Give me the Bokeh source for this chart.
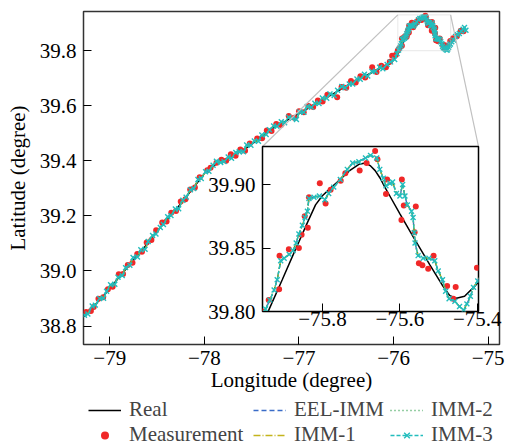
from bokeh.plotting import figure
from bokeh.models import (FixedTicker, CustomJSTickFormatter, BoxAnnotation, Arrow,
                          Legend, LegendItem, Range1d)
from bokeh.embed import file_html
from bokeh.resources import INLINE

# ---------------- data ----------------
real_lon = [-79.27, -79.03, -78.90, -78.75, -78.60, -78.45, -78.32, -78.22, -78.11, -77.99,
            -77.87, -77.72, -77.58, -77.44, -77.28, -77.09, -76.84, -76.63, -76.42, -76.21,
            -76.03, -75.99, -75.96, -75.938, -75.904, -75.874, -75.839, -75.818, -75.801,
            -75.780, -75.758, -75.730, -75.706, -75.689, -75.677, -75.664, -75.651, -75.639,
            -75.626, -75.600, -75.566, -75.523, -75.489, -75.471, -75.454, -75.433, -75.411,
            -75.397, -75.36, -75.32, -75.28, -75.25]
real_lat = [38.835, 38.924, 38.978, 39.039, 39.100, 39.166, 39.215, 39.257, 39.305, 39.358,
            39.390, 39.415, 39.440, 39.475, 39.518, 39.554, 39.603, 39.645, 39.687, 39.724,
            39.754, 39.770, 39.785, 39.8017, 39.825, 39.846, 39.870, 39.884, 39.891,
            39.897, 39.903, 39.911, 39.916, 39.917, 39.915, 39.911, 39.905, 39.898,
            39.891, 39.877, 39.859, 39.837, 39.820, 39.8125, 39.8105, 39.812, 39.8186,
            39.823, 39.842, 39.857, 39.868, 39.876]

meas_lon = [-79.25, -79.20, -79.17, -79.12, -79.07, -79.02, -78.97, -78.905, -78.86, -78.81,
            -78.76, -78.71, -78.66, -78.61, -78.56, -78.51, -78.446, -78.40, -78.35, -78.30,
            -78.25, -78.20, -78.15, -78.10, -78.05, -77.97, -77.935, -77.872, -77.82, -77.77,
            -77.72, -77.67, -77.62, -77.57, -77.52, -77.442, -77.39, -77.34, -77.29, -77.24,
            -77.19, -77.108, -77.05, -77.00, -76.95, -76.90, -76.85, -76.80, -76.75, -76.70,
            -76.596, -76.55, -76.50, -76.45, -76.40, -76.35, -76.30, -76.226, -76.18, -76.13,
            -76.08, -76.04, -76.015, -75.975, -75.955,
            -75.939, -75.912, -75.911, -75.887, -75.861, -75.854, -75.838, -75.846, -75.835,
            -75.807, -75.792, -75.779, -75.753, -75.741, -75.704, -75.686, -75.664, -75.658,
            -75.633, -75.636, -75.595, -75.590, -75.596, -75.559, -75.562, -75.551, -75.542,
            -75.527, -75.513, -75.478, -75.456, -75.462, -75.401,
            -75.37, -75.33, -75.29, -75.26]
meas_lat = [38.851, 38.855, 38.869, 38.899, 38.905, 38.934, 38.943, 38.988, 38.989, 39.022,
            39.030, 39.062, 39.070, 39.103, 39.112, 39.148, 39.176, 39.180, 39.211, 39.218,
            39.252, 39.260, 39.296, 39.303, 39.340, 39.366, 39.375, 39.393, 39.404, 39.400,
            39.424, 39.418, 39.441, 39.436, 39.463, 39.481, 39.482, 39.510, 39.508, 39.534,
            39.530, 39.563, 39.556, 39.580, 39.576, 39.599, 39.595, 39.619, 39.615, 39.640,
            39.631, 39.668, 39.665, 39.690, 39.684, 39.707, 39.702, 39.740, 39.722, 39.745,
            39.740, 39.760, 39.781, 39.785, 39.800,
            39.809, 39.8175, 39.844, 39.849, 39.850, 39.8605, 39.866, 39.875, 39.890,
            39.901, 39.885, 39.896, 39.903, 39.909, 39.911, 39.917, 39.9265, 39.920,
            39.904, 39.8925, 39.904, 39.8835, 39.872, 39.8827, 39.8625, 39.838, 39.8365,
            39.8336, 39.844, 39.820, 39.8194, 39.810, 39.8345,
            39.845, 39.852, 39.872, 39.870]

# filter estimates (EEL-IMM, IMM-1, IMM-2 and IMM-3 overlap at this scale)
est_lon = [-79.268, -79.232, -79.186, -79.153, -79.108, -79.066, -79.034, -78.992, -78.947, -78.913,
           -78.868, -78.833, -78.788, -78.754, -78.707, -78.672, -78.627, -78.594, -78.548, -78.512,
           -78.466, -78.433, -78.388, -78.353, -78.307, -78.272, -78.228, -78.193, -78.147, -78.112,
           -78.068, -78.033, -77.987, -77.952, -77.908, -77.873, -77.827, -77.792, -77.748, -77.713,
           -77.668, -77.632, -77.587, -77.553, -77.508, -77.472, -77.428, -77.393, -77.347, -77.312,
           -77.268, -77.233, -77.187, -77.152, -77.108, -77.072, -77.027, -76.992, -76.948, -76.913,
           -76.867, -76.832, -76.788, -76.753, -76.707, -76.672, -76.628, -76.592, -76.547, -76.513,
           -76.468, -76.432, -76.387, -76.352, -76.308, -76.273, -76.228, -76.192, -76.147, -76.113,
           -76.068, -76.032, -75.988, -75.963,
           -75.947, -75.936, -75.925, -75.917, -75.908, -75.899, -75.886, -75.876, -75.868, -75.861,
           -75.852, -75.845, -75.839, -75.835, -75.822, -75.808, -75.794, -75.784, -75.771, -75.754,
           -75.736, -75.722, -75.706, -75.689, -75.676, -75.660, -75.652, -75.643, -75.636, -75.626,
           -75.619, -75.609, -75.600, -75.593, -75.587, -75.581, -75.570, -75.566, -75.563, -75.561,
           -75.553, -75.540, -75.525, -75.510, -75.501, -75.490, -75.482, -75.473, -75.458, -75.446,
           -75.435, -75.427, -75.418, -75.410, -75.399,
           -75.385, -75.365, -75.345, -75.325, -75.305, -75.285, -75.265, -75.250, -75.235]
est_lat = [38.839, 38.844, 38.873, 38.876, 38.900, 38.901, 38.926, 38.950, 38.952, 38.977,
           38.983, 39.012, 39.021, 39.049, 39.051, 39.077, 39.079, 39.107, 39.129, 39.134,
           39.158, 39.169, 39.197, 39.201, 39.225, 39.226, 39.257, 39.268, 39.295, 39.299,
           39.332, 39.336, 39.360, 39.362, 39.384, 39.398, 39.394, 39.397, 39.414, 39.409,
           39.430, 39.433, 39.433, 39.457, 39.456, 39.472, 39.471, 39.494, 39.495, 39.513,
           39.526, 39.525, 39.542, 39.538, 39.558, 39.554, 39.550, 39.577, 39.576, 39.597,
           39.594, 39.609, 39.608, 39.628, 39.627, 39.643, 39.637, 39.656, 39.670, 39.665,
           39.679, 39.679, 39.697, 39.696, 39.714, 39.708, 39.724, 39.725, 39.740, 39.734,
           39.750, 39.759, 39.768, 39.789,
           39.802, 39.809, 39.817, 39.825, 39.840, 39.842, 39.845, 39.848, 39.854, 39.861,
           39.868, 39.874, 39.879, 39.889, 39.890, 39.891, 39.888, 39.893, 39.898, 39.904,
           39.912, 39.917, 39.918, 39.921, 39.923, 39.921, 39.912, 39.905, 39.899, 39.901,
           39.902, 39.893, 39.891, 39.900, 39.891, 39.884, 39.879, 39.874, 39.862, 39.854,
           39.844, 39.842, 39.842, 39.840, 39.832, 39.825, 39.816, 39.810, 39.808, 39.804,
           39.801, 39.806, 39.812, 39.819, 39.824,
           39.832, 39.838, 39.851, 39.858, 39.862, 39.870, 39.878, 39.884, 39.874]

main_x_ticks = [-79, -78, -77, -76, -75]
main_y_ticks = [38.8, 39.0, 39.2, 39.4, 39.6, 39.8]
inset_x_ticks = [-75.8, -75.6, -75.4]
inset_y_ticks = [39.80, 39.85, 39.90]

main_x_range = (-79.278, -74.880)
main_y_range = (38.733, 39.942)
inset_x_range = (-75.955, -75.397)
inset_y_range = (39.800, 39.930)

# ---------------- styles ----------------
FONT = "'Liberation Serif', 'Times New Roman', serif"
FS = "21px"
C_REAL = "black"
C_MEAS = "#f02828"
C_EEL = "#3a6cc8"
C_IMM1 = "#c4b41c"
C_IMM2 = "#2e9e4a"
C_IMM3 = "#22bdbd"

S_REAL = dict(line_color=C_REAL, line_width=1.5)
S_MEAS = dict(marker="circle", size=6, fill_color=C_MEAS, line_color=None)
S_EEL = dict(line_color=C_EEL, line_width=1.4, line_dash="5 3")
S_IMM1 = dict(line_color=C_IMM1, line_width=1.4, line_dash="7 2 1 2")
S_IMM2 = dict(line_color=C_IMM2, line_width=1.4, line_dash="1 3")
S_IMM3 = dict(line_color=C_IMM3, line_width=1.4, line_dash="4 2")
S_IMM3M = dict(marker="x", size=7, line_color=C_IMM3, line_width=1.4)


def fmt(d):
    return CustomJSTickFormatter(
        code="return tick.toFixed(%d).replace('-', '\u2212');" % d)


def style_axes(fig, xd, yd, xstand, ystand):
    for ax in (fig.xaxis[0], fig.yaxis[0]):
        ax.axis_line_color = None
        ax.major_tick_in = 8
        ax.major_tick_out = 0
        ax.minor_tick_line_color = None
        ax.major_tick_line_color = "black"
        ax.major_tick_line_width = 1
        ax.major_label_text_font = FONT
        ax.major_label_text_font_size = FS
        ax.major_label_text_color = "black"
        ax.axis_label_text_font = FONT
        ax.axis_label_text_font_size = FS
        ax.axis_label_text_font_style = "normal"
        ax.axis_label_text_color = "black"
    fig.xaxis[0].formatter = fmt(xd)
    fig.yaxis[0].formatter = fmt(yd)
    fig.xaxis[0].major_label_standoff = xstand
    fig.yaxis[0].major_label_standoff = ystand
    fig.xgrid.visible = False
    fig.ygrid.visible = False


def draw_series(fig):
    fig.line(real_lon, real_lat, **S_REAL)
    fig.scatter(meas_lon, meas_lat, **S_MEAS)
    fig.line(est_lon, est_lat, **S_EEL)
    fig.line(est_lon, est_lat, **S_IMM1)
    fig.line(est_lon, est_lat, **S_IMM2)
    fig.line(est_lon, est_lat, **S_IMM3)
    fig.scatter(est_lon, est_lat, **S_IMM3M)


def place(left, top):
    return {"position": "absolute", "left": "%dpx" % left, "top": "%dpx" % top}


# ---------------- main figure ----------------
p = figure(width=505, height=402, output_backend="svg", toolbar_location=None,
           x_range=Range1d(*main_x_range), y_range=Range1d(*main_y_range),
           min_border_left=83, min_border_right=6, min_border_top=11, min_border_bottom=58,
           x_axis_label="Longitude (degree)", y_axis_label="Latitude (degree)",
           styles=place(0, 0))
p.outline_line_color = "#333333"
p.outline_line_width = 1.5
p.background_fill_color = "white"
p.border_fill_color = "white"
p.xaxis[0].ticker = FixedTicker(ticks=main_x_ticks)
p.yaxis[0].ticker = FixedTicker(ticks=main_y_ticks)
style_axes(p, 0, 1, 6, 7)
p.xaxis[0].axis_label_standoff = 0
p.yaxis[0].axis_label_standoff = 7

# zoom box and connectors
p.add_layout(BoxAnnotation(left=inset_x_range[0], right=inset_x_range[1],
                           bottom=inset_y_range[0], top=inset_y_range[1],
                           fill_alpha=0, line_color="#c0c0c0", line_width=1.2))
INSET_LEFT, INSET_TOP, INSET_W, INSET_H = 262, 146, 216, 165
p.add_layout(Arrow(end=None, x_start=inset_x_range[0], y_start=inset_y_range[1], start_units="data",
                   x_end=INSET_LEFT, y_end=INSET_TOP, end_units="canvas",
                   line_color="#c0c0c0", line_width=1.2))
p.add_layout(Arrow(end=None, x_start=inset_x_range[1], y_start=inset_y_range[1], start_units="data",
                   x_end=INSET_LEFT + INSET_W, y_end=INSET_TOP, end_units="canvas",
                   line_color="#c0c0c0", line_width=1.2))
draw_series(p)

# ---------------- legend strip ----------------
# the legend renderers hold one point lying outside the visible range, only to draw key glyphs
LF_TOP, LF_H = 397, 50
lf = figure(width=505, height=LF_H, output_backend="svg", toolbar_location=None,
            x_range=Range1d(0, 1), y_range=Range1d(0, 1),
            x_axis_type=None, y_axis_type=None, min_border=0, styles=place(0, LF_TOP))
lf.outline_line_color = None
lf.background_fill_alpha = 0
lf.border_fill_alpha = 0
lf.xgrid.visible = False
lf.ygrid.visible = False
OFF = ([5], [5])
g_real = lf.line(*OFF, **S_REAL)
g_meas = lf.scatter(*OFF, **dict(S_MEAS, size=5))
g_eel = lf.line(*OFF, **S_EEL)
g_i1 = lf.line(*OFF, **S_IMM1)
g_i2 = lf.line(*OFF, **S_IMM2)
g_i3 = lf.line(*OFF, **S_IMM3)
g_i3m = lf.scatter(*OFF, **dict(S_IMM3M, size=6))


def make_legend(items, x):
    return Legend(items=items, location=(x, 0), orientation="vertical",
                  padding=0, margin=0, spacing=0, glyph_width=33, glyph_height=20,
                  label_height=20, label_standoff=8, label_text_font=FONT,
                  label_text_font_size=FS, label_text_baseline="middle",
                  background_fill_alpha=0, border_line_color=None)


lf.add_layout(make_legend([LegendItem(label="Real", renderers=[g_real]),
                           LegendItem(label="Measurement", renderers=[g_meas])], 88))
lf.add_layout(make_legend([LegendItem(label="EEL-IMM", renderers=[g_eel]),
                           LegendItem(label="IMM-1", renderers=[g_i1])], 253))
lf.add_layout(make_legend([LegendItem(label="IMM-2", renderers=[g_i2]),
                           LegendItem(label="IMM-3", renderers=[g_i3, g_i3m])], 390))

# ---------------- inset figure ----------------
BL, BR, BT, BB = 90, 27, 10, 40
q = figure(frame_width=INSET_W, frame_height=INSET_H, output_backend="svg",
           toolbar_location=None,
           x_range=Range1d(*inset_x_range), y_range=Range1d(*inset_y_range),
           min_border_left=BL, min_border_right=BR, min_border_top=BT, min_border_bottom=BB,
           styles=place(INSET_LEFT - BL, INSET_TOP - BT))
q.outline_line_color = "black"
q.outline_line_width = 1.5
q.background_fill_color = "white"
q.border_fill_alpha = 0
q.xaxis[0].ticker = FixedTicker(ticks=inset_x_ticks)
q.yaxis[0].ticker = FixedTicker(ticks=inset_y_ticks)
style_axes(q, 1, 2, 0, 7)
draw_series(q)

open("out.html", "w").write(file_html([p, lf, q], INLINE))
